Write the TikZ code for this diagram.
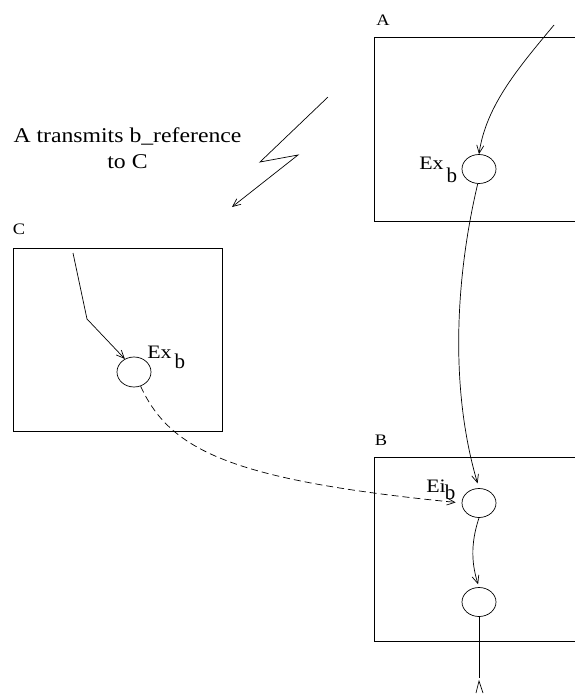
\documentclass[tikz,border=0pt]{standalone}
\usepackage{fontspec}
\setmainfont{Liberation Serif}
\newfontfamily\xfont[FakeStretch=1.15]{Liberation Serif}
\newfontfamily\capfont[FakeStretch=1.13]{Liberation Serif}
\usetikzlibrary{shapes.geometric,arrows.meta}
\newcommand\lowb[1]{\raisebox{-#1}{\rmfamily\fontsize{21}{21}\selectfont b}}

\begin{document}
\begin{tikzpicture}[x=1pt,y=-1pt,line width=0.7pt,
  obj/.style={ellipse,draw,minimum width=34pt,minimum height=29pt,inner sep=0pt},
  tip/.style={-{Straight Barb[length=8pt,width=7pt]}},
  boxname/.style={font={\xfont\fontsize{16}{16}\selectfont},inner sep=0pt},
  objname/.style={font={\xfont\fontsize{19}{19}\selectfont},inner sep=0pt,anchor=base west}]

\useasboundingbox (0,0) rectangle (575,694);
\clip (0,0) rectangle (575,694);

% hosts
\draw (374,37) rectangle (590,221);
\draw (374,457) rectangle (590,641);
\draw (13,248) rectangle (222,431);
\node[boxname] (nameA) at (383,20) {A};
\node[boxname] (nameB) at (381,440) {B};
\node[boxname] (nameC) at (19,229) {C};

% objects
\node[obj] (exA) at (479,169) {};
\node[obj] (eiB) at (479,503) {};
\node[obj] (outB) at (479,602) {};
\node[obj,minimum height=30pt] (exC) at (134,372) {};
\node[objname] (exAname) at (419,169) {Ex\hspace{3pt}\lowb{13pt}};
\node[objname] (eiBname) at (426,492) {Ei\hspace{-1pt}\lowb{7pt}};
\node[objname] (exCname) at (147,358) {Ex\hspace{3pt}\lowb{10pt}};

\node[font={\capfont\fontsize{21}{26}\selectfont},align=center,inner sep=0pt,anchor=north]
  (note) at (127.5,127) {A transmits b\_reference\\to C};

% references
\coordinate (feedA) at (554,25);
\coordinate (feedC) at (73,253);
\coordinate (bendC) at (87,319);
\coordinate (endB) at (479,678);
\draw[tip] (feedA) .. controls (520,66) and (486,105) .. (exA.north);
\draw[tip,shorten >=5pt] (exA.265) .. controls (455,280) and (450,390) .. (eiB.north);
\draw[tip,shorten >=3pt] (eiB.south) .. controls (470,545) and (472,565) .. (outB.north);
\draw (outB.south) -- (endB);
\draw (476,693) -- (479,681) -- (483,693);
\draw[tip] (feedC) -- (bendC) -- (exC.125);
\draw[tip,dash pattern=on 7pt off 4pt,shorten >=6pt]
  (exC.-65) .. controls (170,450) and (230,480) .. (eiB.west);

% transmission
\coordinate (zA) at (328,97);
\coordinate (zB) at (260,162);
\coordinate (zC) at (298,155);
\coordinate (zD) at (232,207);
\draw[tip] (zA) -- (zB) -- (zC) -- (zD);
\end{tikzpicture}
\end{document}
